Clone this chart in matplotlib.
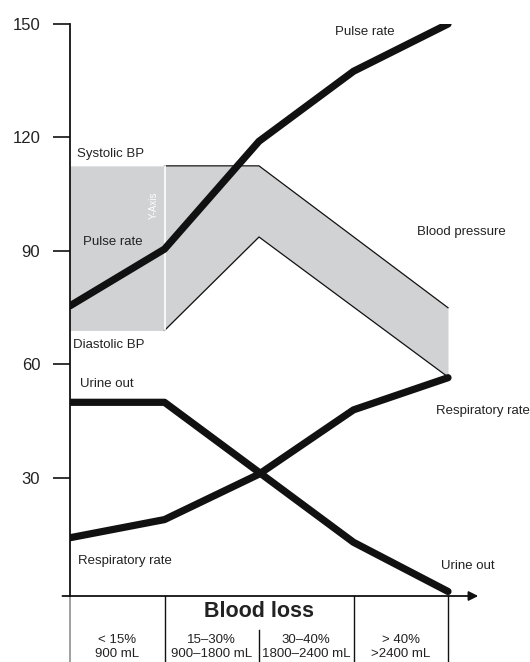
import matplotlib.pyplot as plt
from matplotlib.lines import Line2D

plt.rcParams['font.family'] = ['Liberation Sans', 'DejaVu Sans']

# stages of blood loss (x positions 0..4 are the column boundaries)
stages = [0, 1, 2, 3, 4]
pulse_rate = [75.5, 90.5, 119, 137.5, 150]
urine_out = [50, 50, 31.5, 13, 0]
resp_rate = [14.2, 19, 31, 48, 56.5]

# blood pressure band
bp_x = [0, 1, 2, 4]
systolic = [112.5, 112.5, 112.5, 75]
diastolic = [69, 69, 93.7, 56.7]

yticks = [30, 60, 90, 120, 150]
col_top = ['< 15%', '15\u201330%', '30\u201340%', '> 40%']
col_bot = ['900 mL', '900\u20131800 mL', '1800\u20132400 mL', '>2400 mL']

txt = '#222222'
ink = '#111111'
band = '#d1d2d4'

fig = plt.figure(figsize=(5.3, 6.62), dpi=100)
ax = fig.add_axes([70 / 530, 66 / 662, 4.6 * 94.5 / 530, 572 / 662])
ymin = -1.2
ax.set_xlim(0, 4.6)
ax.set_ylim(ymin, 150)
for s in ['top', 'right', 'bottom']:
    ax.spines[s].set_visible(False)
ax.spines['left'].set_bounds(ymin, 150)
ax.spines['left'].set_color(ink)
ax.spines['left'].set_linewidth(1.3)
ax.set_xticks([])
ax.set_yticks(yticks)
ax.tick_params(axis='y', length=12.5, width=1.2, color=ink, pad=9,
               labelsize=12, labelcolor=txt)

# blood pressure band
ax.fill_between(bp_x, diastolic, systolic, color=band, lw=0, zorder=1)
ax.plot(bp_x[1:], systolic[1:], color=ink, lw=0.9, zorder=2)
ax.plot(bp_x[1:], diastolic[1:], color=ink, lw=0.9, zorder=2)
ax.plot([1, 1], [diastolic[1], systolic[1]], color='white', lw=1.2, zorder=2)
ax.text(0.885, 102, 'Y-Axis', rotation=90, color='white', fontsize=7,
        ha='center', va='center', zorder=3)

# thick physiological curves
for series in [pulse_rate, urine_out, resp_rate]:
    ax.plot(stages, series, color=ink, lw=5.2, solid_capstyle='round',
            solid_joinstyle='round', zorder=4)

# labels
fs = 9.5
ax.text(3.12, 148, 'Pulse rate', fontsize=fs, color=txt, ha='center', va='center')
ax.text(0.074, 115.6, 'Systolic BP', fontsize=fs, color=txt, va='center')
ax.text(0.138, 92.4, 'Pulse rate', fontsize=fs, color=txt, va='center')
ax.text(0.03, 65.2, 'Diastolic BP', fontsize=fs, color=txt, va='center')
ax.text(0.106, 54.9, 'Urine out', fontsize=fs, color=txt, va='center')
ax.text(0.085, 8.1, 'Respiratory rate', fontsize=fs, color=txt, va='center')
ax.text(3.67, 95, 'Blood pressure', fontsize=fs, color=txt, va='center')
ax.text(3.87, 47.7, 'Respiratory rate', fontsize=fs, color=txt, va='center')
ax.text(3.93, 6.7, 'Urine out', fontsize=fs, color=txt, va='center')

# x axis with arrow
ax.annotate('', xy=(4.32, ymin), xytext=(-0.08, ymin),
            arrowprops=dict(arrowstyle='-|>', color=ink, lw=1.3,
                            mutation_scale=14, shrinkA=0, shrinkB=0),
            annotation_clip=False)

# blood loss table below the axis
ybot = -18.8
ax.add_line(Line2D([0, 0], [ymin, ybot], color='#999999', lw=1.3, clip_on=False))
for xc in [1, 3, 4]:
    ax.add_line(Line2D([xc, xc], [ymin, ybot], color=ink, lw=1.0, clip_on=False))
ax.add_line(Line2D([2, 2], [-10.2, ybot], color=ink, lw=1.0, clip_on=False))
ax.text(2, -5.3, 'Blood loss', fontsize=15.5, fontweight='bold', color=txt,
        ha='center', va='center', clip_on=False)
for i in range(4):
    ax.text(i + 0.5, -12.8, col_top[i], fontsize=fs, color=txt,
            ha='center', va='center', clip_on=False)
    ax.text(i + 0.5, -16.5, col_bot[i], fontsize=fs, color=txt,
            ha='center', va='center', clip_on=False)

fig.savefig('out.png', dpi=100)
